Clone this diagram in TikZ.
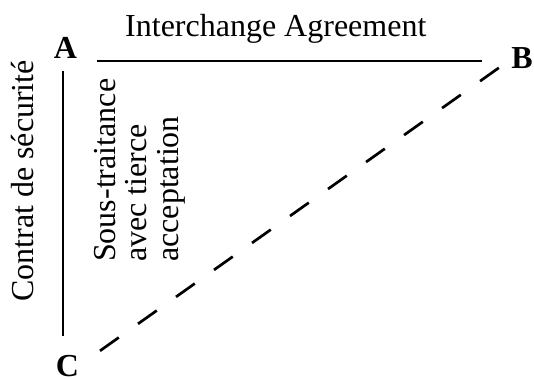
\documentclass[tikz,border=0pt]{standalone}
\usepackage{fontspec}
\setmainfont{Liberation Serif}
\begin{document}
\begin{tikzpicture}[x=1pt,y=1pt,
  lbl/.style={inner sep=0pt,font=\fontsize{32}{31.5}\selectfont},
  corner/.style={inner sep=0pt,font=\fontsize{32}{32}\selectfont\bfseries},
  solidline/.style={line width=2.7pt,black},
  dashline/.style={line width=2.7pt,black,dash pattern=on 23pt off 23.6pt}]
\useasboundingbox (0,0) rectangle (534,-378);
% corner labels
\node[corner,anchor=base] (A) at (65.5,-58) {A};
\node[corner,anchor=base] (B) at (522,-68) {B};
\node[corner,anchor=base] (C) at (67.5,-376.5) {C};
% line end points
\coordinate (ABs) at (97,-61);
\coordinate (ABe) at (482,-61);
\coordinate (ACs) at (63,-71);
\coordinate (ACe) at (63,-336);
\coordinate (CBs) at (100,-350.8);
\coordinate (CBe) at (499,-67.7);
% connectors
\draw[solidline] (ABs) -- (ABe);
\draw[solidline] (ACs) -- (ACe);
\draw[dashline] (CBs) -- (CBe);
% texts
\node[lbl,anchor=base west] (ia) at (125,-36.7) {Interchange Agreement};
\node[lbl,anchor=base west,rotate=90] (cs) at (33,-302) {Contrat de sécurité};
\node[lbl,anchor=base west,rotate=90] (st) at (115,-262)
  {\begin{tabular}[t]{@{}l@{}}Sous-traitance\\avec tierce\\acceptation\end{tabular}};
\end{tikzpicture}
\end{document}
